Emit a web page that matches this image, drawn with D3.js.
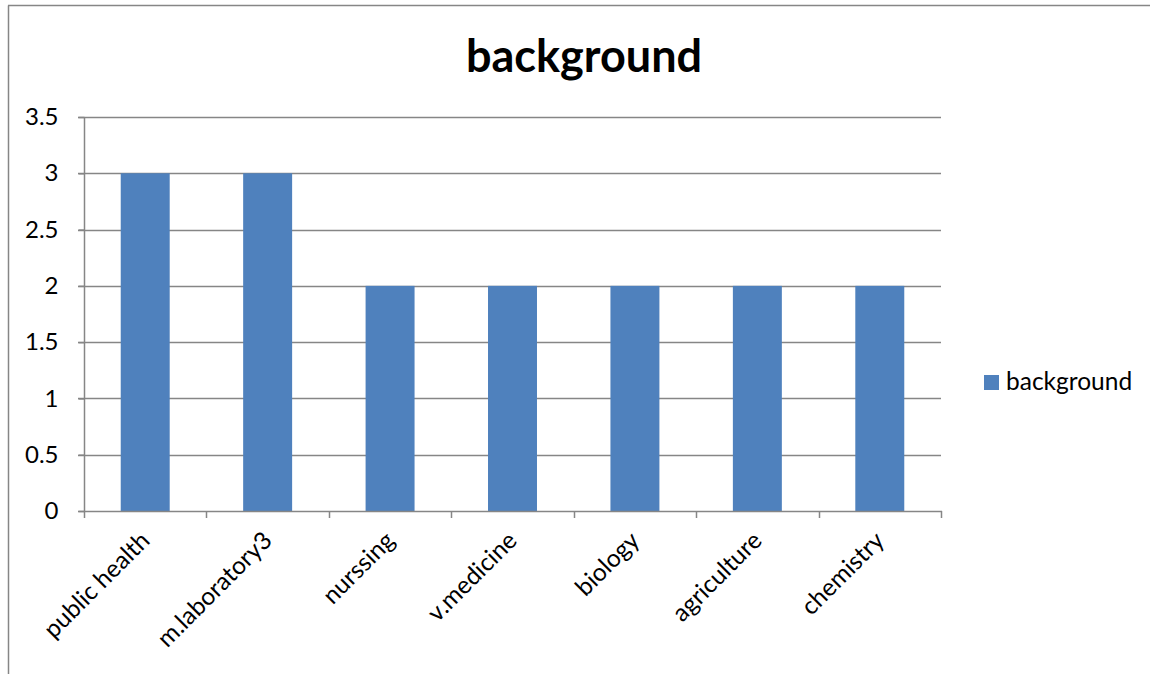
<!DOCTYPE html>
<html><head><meta charset="utf-8">
<script src="https://cdn.jsdelivr.net/npm/d3@7"></script>
<style>
html,body{margin:0;padding:0;background:#fff;}
svg{display:block;font-family:Lato, "Noto Sans", sans-serif;}
</style></head>
<body>
<svg id="chart" width="1150" height="674"></svg>
<script>
const categories = ["public health","m.laboratory3","nurssing","v.medicine","biology","agriculture","chemistry"];
const values = [3,3,2,2,2,2,2];
const seriesName = "background";
const yTicks = [0,0.5,1,1.5,2,2.5,3,3.5];
const title = "background";

const svg = d3.select("#chart");
const W = 1150, H = 674;
const m = {left:84, right:941, top:117, bottom:511};

// outer chart frame (left and top edges visible)
svg.append("line").attr("x1",8.5).attr("x2",8.5).attr("y1",5.5).attr("y2",H)
  .attr("stroke","#868686").attr("stroke-width",1.5);
svg.append("line").attr("x1",8).attr("x2",W).attr("y1",5.5).attr("y2",5.5)
  .attr("stroke","#868686").attr("stroke-width",1.5);

const x = d3.scaleBand().domain(categories).range([m.left, m.right]).paddingInner(0).paddingOuter(0);
const y = d3.scaleLinear().domain([0,3.5]).range([m.bottom, m.top]);

// gridlines
svg.append("g").selectAll("line").data(yTicks.filter(d=>d>0)).join("line")
  .attr("x1", m.left-6).attr("x2", m.right)
  .attr("y1", d=>Math.round(y(d))+0.5).attr("y2", d=>Math.round(y(d))+0.5)
  .attr("stroke","#868686").attr("stroke-width",1.5);

// bars
const bw = x.bandwidth()*0.4;
svg.append("g").selectAll("rect").data(categories).join("rect")
  .attr("x", (d)=>x(d)+x.bandwidth()/2-bw/2)
  .attr("width", bw)
  .attr("y", (d,i)=>y(values[i]))
  .attr("height", (d,i)=>y(0)-y(values[i]))
  .attr("fill","#4F81BD");

// y axis
const yAxis = d3.axisLeft(y).tickValues(yTicks).tickSize(6).tickPadding(20)
  .tickFormat(d=>String(d));
const gy = svg.append("g").attr("transform",`translate(${m.left+0.5},0)`).call(yAxis);
gy.select(".domain").attr("stroke","#868686").attr("stroke-width",1.5).attr("d",`M0,${m.top}V${m.bottom}`);
gy.selectAll(".tick line").attr("stroke","#868686").attr("stroke-width",1.5);
gy.selectAll(".tick text").attr("font-size",24).attr("fill","#000").style("font-family","Lato");

// x axis line and ticks at category boundaries
svg.append("line").attr("x1",m.left-6).attr("x2",m.right+1).attr("y1",m.bottom+0.5).attr("y2",m.bottom+0.5)
  .attr("stroke","#868686").attr("stroke-width",1.5);
const bounds = categories.map(c=>x(c)).concat([x(categories[categories.length-1])+x.bandwidth()]);
svg.append("g").selectAll("line").data(bounds).join("line")
  .attr("x1",d=>Math.round(d)+0.5).attr("x2",d=>Math.round(d)+0.5)
  .attr("y1",m.bottom).attr("y2",m.bottom+7)
  .attr("stroke","#868686").attr("stroke-width",1.5);

// x labels
svg.append("g").selectAll("text").data(categories).join("text")
  .attr("transform", d=>`translate(${x(d)+x.bandwidth()/2+6},${m.bottom+31}) rotate(-45)`)
  .attr("text-anchor","end")
  .attr("font-size",24.5)
  .attr("fill","#000")
  .text(d=>d);

// title
svg.append("text").attr("x",584).attr("y",72).attr("text-anchor","middle")
  .attr("font-size",45).attr("font-weight","bold").attr("fill","#000").text(title);

// legend
svg.append("rect").attr("x",984).attr("y",375).attr("width",15).attr("height",15).attr("fill","#4F81BD");
svg.append("text").attr("x",1006).attr("y",390).attr("font-size",24.5).attr("fill","#000").text(seriesName);
</script>
</body></html>
